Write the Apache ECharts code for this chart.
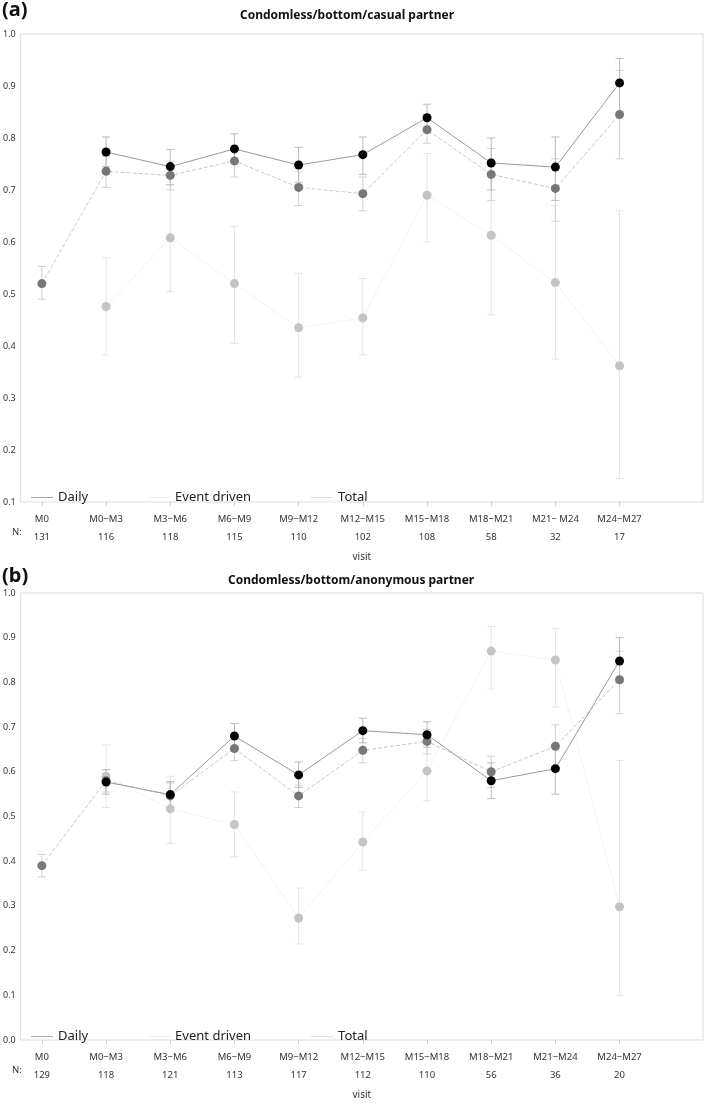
<!DOCTYPE html>
<html><head><meta charset="utf-8">
<script src="https://cdn.jsdelivr.net/npm/echarts@6/dist/echarts.min.js"></script>
<style>html,body{margin:0;padding:0;background:#fff}#c{width:709px;height:1111px}</style>
</head><body><div id="c"></div>
<script>
const visits = ['M0','M0\u2212M3','M3\u2212M6','M6\u2212M9','M9\u2212M12','M12\u2212M15','M15\u2212M18','M18\u2212M21','M21\u2212 M24','M24\u2212M27'];
const visitsB = ['M0','M0\u2212M3','M3\u2212M6','M6\u2212M9','M9\u2212M12','M12\u2212M15','M15\u2212M18','M18\u2212M21','M21\u2212M24','M24\u2212M27'];
const nA = [131,116,118,115,110,102,108,58,32,17];
const nB = [129,118,121,113,117,112,110,56,36,20];

const dailyA = [null,0.773,0.745,0.779,0.748,0.768,0.839,0.752,0.744,0.906];
const dailyA_lo = [null,0.745,0.71,0.75,0.715,0.73,0.81,0.70,0.68,0.85];
const dailyA_hi = [null,0.802,0.778,0.808,0.782,0.802,0.865,0.80,0.802,0.953];
const totalA = [0.52,0.736,0.728,0.756,0.705,0.693,0.816,0.73,0.703,0.845];
const totalA_lo = [0.49,0.705,0.70,0.725,0.67,0.66,0.79,0.68,0.64,0.76];
const totalA_hi = [0.553,0.765,0.755,0.785,0.735,0.725,0.845,0.78,0.76,0.93];
const eventA = [null,0.476,0.608,0.52,0.435,0.454,0.69,0.613,0.522,0.362];
const eventA_lo = [null,0.383,0.505,0.405,0.34,0.383,0.60,0.46,0.375,0.145];
const eventA_hi = [null,0.57,0.71,0.63,0.54,0.53,0.77,0.76,0.67,0.66];

const dailyB = [null,0.577,0.549,0.68,0.593,0.692,0.683,0.58,0.607,0.848];
const dailyB_lo = [null,0.55,0.52,0.65,0.565,0.665,0.655,0.54,0.55,0.80];
const dailyB_hi = [null,0.605,0.578,0.708,0.622,0.72,0.712,0.62,0.66,0.90];
const totalB = [0.39,0.58,0.546,0.652,0.546,0.648,0.668,0.60,0.657,0.806];
const totalB_lo = [0.365,0.555,0.52,0.625,0.52,0.62,0.64,0.565,0.61,0.73];
const totalB_hi = [0.415,0.605,0.575,0.68,0.57,0.675,0.695,0.635,0.705,0.87];
const eventB = [null,0.59,0.517,0.482,0.273,0.443,0.602,0.87,0.85,0.298];
const eventB_lo = [null,0.52,0.44,0.41,0.215,0.38,0.535,0.785,0.745,0.10];
const eventB_hi = [null,0.66,0.59,0.555,0.34,0.51,0.665,0.925,0.92,0.625];

const idx = [0,1,2,3,4,5,6,7,8,9];
const FONT = 'Noto Sans';

function pts(v){ return v.map((y,i)=> y==null ? null : [i,y]).filter(p=>p); }
function bars(lo,hi){ return lo.map((l,i)=> l==null?null:[i,l,hi[i]]).filter(p=>p); }
function errSeries(lo,hi,g,color){
  return {type:'custom', xAxisIndex:g, yAxisIndex:g, silent:true, z:1,
    data:bars(lo,hi),
    renderItem:(params,api)=>{
      const a=api.coord([api.value(0),api.value(1)]), b=api.coord([api.value(0),api.value(2)]);
      const w=4, st={stroke:color,lineWidth:1};
      return {type:'group',children:[
        {type:'line',shape:{x1:a[0],y1:a[1],x2:b[0],y2:b[1]},style:st},
        {type:'line',shape:{x1:a[0]-w,y1:a[1],x2:a[0]+w,y2:a[1]},style:st},
        {type:'line',shape:{x1:b[0]-w,y1:b[1],x2:b[0]+w,y2:b[1]},style:st}]};
    }};
}
function lineSeries(name,vals,g,lineColor,lineType,dot){
  return {type:'line',name,xAxisIndex:g,yAxisIndex:g,data:pts(vals),symbol:'circle',symbolSize:9,z:3,
    lineStyle:{color:lineColor,width:1,type:lineType},itemStyle:{color:dot}};
}
function xAxis(g,labels,ns){
  return {type:'value',gridIndex:g,min:-0.33,max:10.3,
    axisLine:{show:false},splitLine:{show:false},
    axisTick:{show:true,customValues:idx,length:4,lineStyle:{color:'#ccc'}},
    axisLabel:{customValues:idx,fontFamily:FONT,fontSize:9.5,color:'#333',lineHeight:18,margin:8,
      formatter:v=>labels[Math.round(v)]+'\n'+ns[Math.round(v)]},
    name:'visit',nameLocation:'middle',nameGap:50,nameTextStyle:{fontFamily:FONT,fontSize:10,color:'#333'}};
}
function yAxis(g,min){
  return {type:'value',gridIndex:g,min:min,max:1.0,interval:0.1,
    axisLine:{show:false},axisTick:{show:false},splitLine:{show:false},
    axisLabel:{fontFamily:FONT,fontSize:9,color:'#333',margin:5,formatter:v=>v.toFixed(1)}};
}
function legend(top){
  return {top,left:26,itemWidth:22,itemHeight:1,itemGap:60,icon:'rect',
    textStyle:{fontFamily:FONT,fontSize:13,color:'#222'},selectedMode:false,
    data:[{name:'Daily',itemStyle:{color:'#aaaaaa'}},
          {name:'Event driven',itemStyle:{color:'#eeeeee'}},
          {name:'Total',itemStyle:{color:'#dddddd'}}]};
}

const option = {
  animation:false,
  textStyle:{fontFamily:FONT},
  grid:[{left:20,right:6,top:34,height:468,show:true,borderColor:'#ddd',borderWidth:1,containLabel:false},
        {left:20,right:6,top:593,height:447,show:true,borderColor:'#ddd',borderWidth:1,containLabel:false}],
  xAxis:[xAxis(0,visits,nA),xAxis(1,visitsB,nB)],
  yAxis:[yAxis(0,0.1),yAxis(1,0.0)],
  legend:[legend(486),legend(1025)],
  graphic:[
    {type:'text',left:2,top:0,style:{text:'(a)',font:'bold 20px "Noto Sans"',fill:'#111'}},
    {type:'text',left:240,top:10,style:{text:'Condomless/bottom/casual partner',font:'bold 12px "Noto Sans"',fill:'#111'}},
    {type:'text',left:2,top:566,style:{text:'(b)',font:'bold 20px "Noto Sans"',fill:'#111'}},
    {type:'text',left:228,top:575,style:{text:'Condomless/bottom/anonymous partner',font:'bold 12px "Noto Sans"',fill:'#111'}},
    {type:'text',left:12,top:527,style:{text:'N:',font:'9.5px "Noto Sans"',fill:'#333'}},
    {type:'text',left:12,top:1065,style:{text:'N:',font:'9.5px "Noto Sans"',fill:'#333'}}
  ],
  series:[
    errSeries(eventA_lo,eventA_hi,0,'#e4e4e4'),
    errSeries(totalA_lo,totalA_hi,0,'#d0d0d0'),
    errSeries(dailyA_lo,dailyA_hi,0,'#bbbbbb'),
    lineSeries('Event driven',eventA,0,'#e6e6e6','dotted','#c4c4c4'),
    lineSeries('Total',totalA,0,'#c8c8c8','dashed','#777777'),
    lineSeries('Daily',dailyA,0,'#999999','solid','#000000'),
    errSeries(eventB_lo,eventB_hi,1,'#e4e4e4'),
    errSeries(totalB_lo,totalB_hi,1,'#d0d0d0'),
    errSeries(dailyB_lo,dailyB_hi,1,'#bbbbbb'),
    lineSeries('Event driven',eventB,1,'#e6e6e6','dotted','#c4c4c4'),
    lineSeries('Total',totalB,1,'#c8c8c8','dashed','#777777'),
    lineSeries('Daily',dailyB,1,'#999999','solid','#000000')
  ]
};
echarts.init(document.getElementById('c'),null,{renderer:'canvas'}).setOption(option);
</script></body></html>
